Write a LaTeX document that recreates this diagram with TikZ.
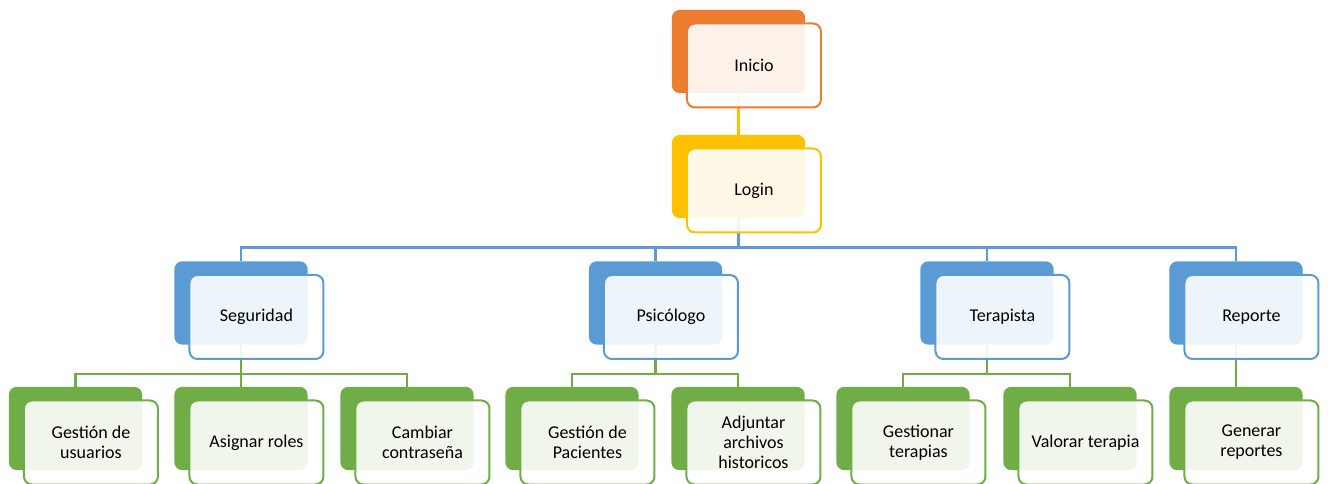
\documentclass[tikz,border=0pt]{standalone}
\usepackage{fontspec}
\setmainfont{Carlito}
\usetikzlibrary{positioning}

\definecolor{naranja}{HTML}{ED7D31}
\definecolor{oro}{HTML}{FFC000}
\definecolor{azul}{HTML}{5B9BD5}
\definecolor{verde}{HTML}{70AD47}

\pgfdeclarelayer{lineas}
\pgfsetlayers{lineas,main}

\tikzset{
  fondo/.style={rectangle,rounded corners=6pt,minimum width=100pt,minimum height=62.5pt,inner sep=0pt,draw=none},
  frente/.style={rectangle,rounded corners=6pt,minimum width=100.5pt,minimum height=63pt,inner sep=2pt,line width=1.5pt,
    fill=white,fill opacity=0.9,text opacity=1,align=center,font=\fontsize{13.5}{15}\selectfont,xshift=11.6pt,yshift=-10.5pt},
  enlace/.style={line width=2pt}
}

\begin{document}
\begin{tikzpicture}[x=0.75pt,y=-0.75pt]
\useasboundingbox (0,0) rectangle (1328,484);
\clip (0,0) rectangle (1328,484);

% nivel 1
\node[fondo,fill=naranja] (inicio) at (738.5,51.5) {};
\node[frente,draw=naranja] (inicio-t) at (inicio.center) {Inicio};
\node[fondo,fill=oro] (login) at (738.5,176.5) {};
\node[frente,draw=oro] (login-t) at (login.center) {Login};

% nivel 2
\node[fondo,fill=azul] (seguridad) at (241,303) {};
\node[frente,draw=azul] (seguridad-t) at (seguridad.center) {Seguridad};
\node[fondo,fill=azul] (psicologo) at (655.5,303) {};
\node[frente,draw=azul] (psicologo-t) at (psicologo.center) {Psicólogo};
\node[fondo,fill=azul] (terapista) at (987,303) {};
\node[frente,draw=azul] (terapista-t) at (terapista.center) {Terapista};
\node[fondo,fill=azul] (reporte) at (1236,303) {};
\node[frente,draw=azul] (reporte-t) at (reporte.center) {Reporte};

% nivel 3
\node[fondo,fill=verde] (usuarios) at (75.5,428.5) {};
\node[frente,draw=verde] (usuarios-t) at (usuarios.center) {Gestión de\\usuarios};
\node[fondo,fill=verde] (roles) at (241,428.5) {};
\node[frente,draw=verde] (roles-t) at (roles.center) {Asignar roles};
\node[fondo,fill=verde] (clave) at (407,428.5) {};
\node[frente,draw=verde] (clave-t) at (clave.center) {Cambiar\\contraseña};
\node[fondo,fill=verde] (pacientes) at (572,428.5) {};
\node[frente,draw=verde] (pacientes-t) at (pacientes.center) {Gestión de\\Pacientes};
\node[fondo,fill=verde] (archivos) at (738,428.5) {};
\node[frente,draw=verde] (archivos-t) at (archivos.center) {Adjuntar\\archivos\\historicos};
\node[fondo,fill=verde] (terapias) at (903,428.5) {};
\node[frente,draw=verde] (terapias-t) at (terapias.center) {Gestionar\\terapias};
\node[fondo,fill=verde] (valorar) at (1070,428.5) {};
\node[frente,draw=verde] (valorar-t) at (valorar.center) {Valorar terapia};
\node[fondo,fill=verde] (generar) at (1236,428.5) {};
\node[frente,draw=verde] (generar-t) at (generar.center) {Generar\\reportes};

\begin{pgfonlayer}{lineas}
\draw[enlace,draw=oro] (inicio.south) -- (login.north);
\draw[enlace,draw=azul] (login.south) -- ++(0,29) -| (seguridad.north);
\draw[enlace,draw=azul] (login.south) -- ++(0,29) -| (psicologo.north);
\draw[enlace,draw=azul] (login.south) -- ++(0,29) -| (terapista.north);
\draw[enlace,draw=azul] (login.south) -- ++(0,29) -| (reporte.north);
\draw[enlace,draw=verde] (seguridad.south) -- ++(0,29) -| (usuarios.north);
\draw[enlace,draw=verde] (seguridad.south) -- ++(0,29) -| (roles.north);
\draw[enlace,draw=verde] (seguridad.south) -- ++(0,29) -| (clave.north);
\draw[enlace,draw=verde] (psicologo.south) -- ++(0,29) -| (pacientes.north);
\draw[enlace,draw=verde] (psicologo.south) -- ++(0,29) -| (archivos.north);
\draw[enlace,draw=verde] (terapista.south) -- ++(0,29) -| (terapias.north);
\draw[enlace,draw=verde] (terapista.south) -- ++(0,29) -| (valorar.north);
\draw[enlace,draw=verde] (reporte.south) -- (generar.north);
\end{pgfonlayer}

\end{tikzpicture}
\end{document}
